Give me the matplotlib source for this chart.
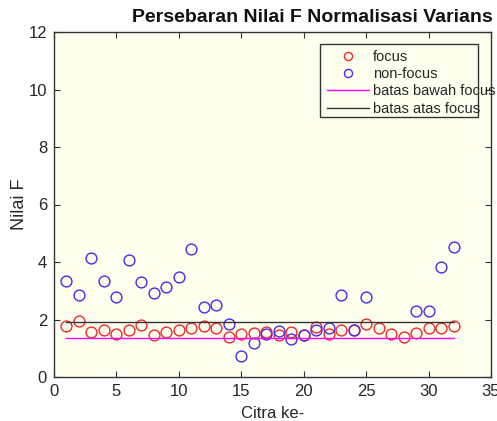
import numpy as np
import matplotlib
matplotlib.use("Agg")
import matplotlib.pyplot as plt
from matplotlib.patches import Rectangle

citra = list(range(1, 33))
focus = [1.77, 1.94, 1.55, 1.65, 1.50, 1.63, 1.80, 1.45, 1.55, 1.62,
         1.70, 1.77, 1.72, 1.38, 1.48, 1.52, 1.56, 1.46, 1.55, 1.47,
         1.74, 1.50, 1.62, 1.65, 1.86, 1.69, 1.48, 1.39, 1.52, 1.70,
         1.72, 1.79]
nonfocus = [3.33, 2.85, 4.14, 3.33, 2.78, 4.06, 3.30, 2.92, 3.13, 3.47,
            4.46, 2.43, 2.52, 1.86, 0.72, 1.20, 1.50, 1.60, 1.31, 1.47,
            1.63, 1.69, 2.85, 1.65, 2.77, np.nan, np.nan, np.nan, 2.29, 2.29,
            3.83, 4.52]
batas_bawah = 1.36
batas_atas = 1.92

plt.rcParams['font.family'] = ['Liberation Sans', 'DejaVu Sans']
txtc = '#262626'

W, H = 497, 421
fig = plt.figure(figsize=(W / 100, H / 100), dpi=100)
ax = fig.add_axes([54 / W, 1 - 377 / H, (491 - 54) / W, (377 - 32) / H])
ax.set_facecolor('#FFFFF0')

ax.plot(citra, focus, 'o', mfc='none', mec='#EE2a2a', ms=7.8, mew=1.0, label='focus')
ax.plot(citra, nonfocus, 'o', mfc='none', mec='#4a2aEE', ms=7.8, mew=1.0, label='non-focus')
ax.plot([citra[0], citra[-1]], [batas_bawah, batas_bawah], color='#FF00FF', lw=1.0, label='batas bawah focus')
ax.plot([citra[0], citra[-1]], [batas_atas, batas_atas], color='#333333', lw=1.0, label='batas atas focus')

ax.set_xlim(0, 35)
ax.set_ylim(0, 12)
ax.set_xticks(range(0, 36, 5))
ax.set_yticks(range(0, 13, 2))
ax.tick_params(direction='in', top=True, right=True, labelsize=12, length=4, pad=5,
               labelcolor=txtc, color='#333333')
for s in ax.spines.values():
    s.set_linewidth(1.0)
    s.set_color('#333333')

ax.set_xlabel('Citra ke-', fontsize=12, labelpad=5, color=txtc)
ax.set_ylabel('Nilai F', fontsize=13, labelpad=0, color=txtc)
fig.text(312 / W, 1 - 17 / H, 'Persebaran Nilai F Normalisasi Varians', ha='center', va='center',
         fontsize=14, fontweight='bold', color='#111111')

# legend frame (drawn separately, as in the reference the text overflows it)
fig.add_artist(Rectangle((320 / W, 1 - 117 / H), 158 / W, 73 / H, transform=fig.transFigure,
                         facecolor='#FFFFF0', edgecolor='#333333', lw=1.0, zorder=4))
leg = fig.legend(*ax.get_legend_handles_labels(), loc='upper left',
                 bbox_to_anchor=(327 / W, 1 - 50 / H), bbox_transform=fig.transFigure,
                 fontsize=10.5, frameon=False, handlelength=2.9, borderpad=0,
                 labelspacing=0.22, handletextpad=0.25, markerscale=0.75, borderaxespad=0)
leg.set_zorder(5)
for t in leg.get_texts():
    t.set_color(txtc)

fig.savefig('out.png', dpi=100)
